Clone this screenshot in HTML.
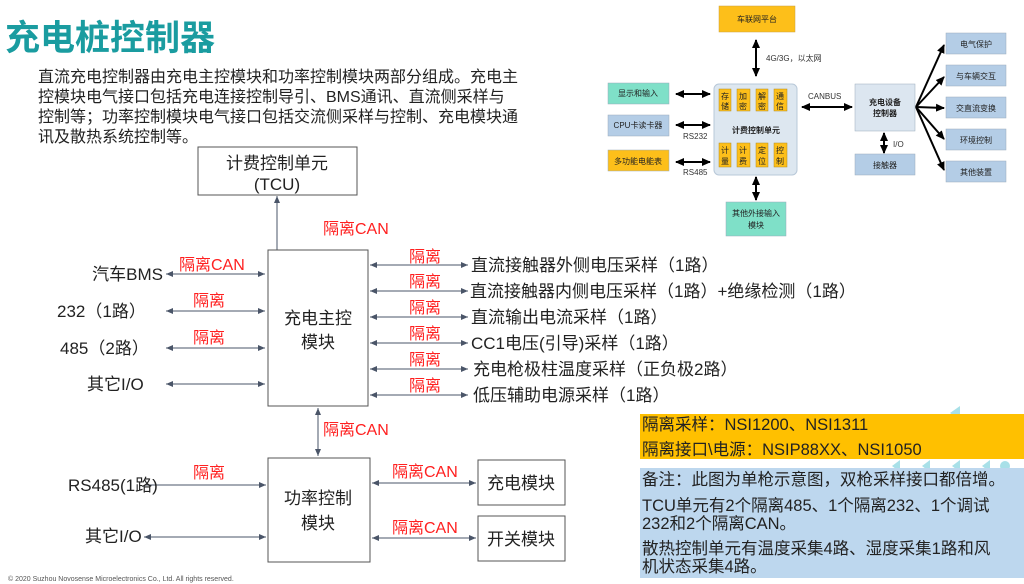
<!DOCTYPE html>
<html><head><meta charset="utf-8"><style>
html,body{margin:0;padding:0;background:#fff;}
svg{display:block;}
text{font-family:"Liberation Sans","Noto Sans CJK SC",sans-serif;}
</style></head><body>
<svg width="1024" height="584" viewBox="0 0 1024 584" xmlns="http://www.w3.org/2000/svg">
<defs>
<marker id="a" markerWidth="8" markerHeight="8" refX="7" refY="4" orient="auto-start-reverse" markerUnits="userSpaceOnUse"><path d="M0,1 L7,4 L0,7 z" fill="#4a5568"/></marker>
<marker id="b" markerWidth="10" markerHeight="10" refX="8" refY="5" orient="auto-start-reverse" markerUnits="userSpaceOnUse"><path d="M0,1 L9,5 L0,9 z" fill="#000"/></marker>
</defs>
<!-- title -->
<text x="5" y="50" font-size="35" font-weight="bold" fill="#1a9ca0">充电桩控制器</text>
<g font-size="16" fill="#222">
<text x="38" y="82">直流充电控制器由充电主控模块和功率控制模块两部分组成。充电主</text>
<text x="38" y="102">控模块电气接口包括充电连接控制导引、BMS通讯、直流侧采样与</text>
<text x="38" y="122">控制等；功率控制模块电气接口包括交流侧采样与控制、充电模块通</text>
<text x="38" y="142">讯及散热系统控制等。</text>
</g>
<!-- boxes -->
<rect x="198" y="147" width="159" height="48" fill="#fff" stroke="#555" stroke-width="1"/>
<line x1="277" y1="250" x2="277" y2="196" stroke="#4a5568" marker-end="url(#a)"/>
<rect x="268" y="250" width="100" height="156" fill="#fff" stroke="#555"/>
<rect x="268" y="458" width="102" height="104" fill="#fff" stroke="#555"/>
<rect x="478" y="460" width="87" height="45" fill="#fff" stroke="#555"/>
<rect x="478" y="516" width="87" height="45" fill="#fff" stroke="#555"/>
<g font-size="17" fill="#222" text-anchor="middle">
<text x="277" y="169">计费控制单元</text>
<text x="277" y="190">(TCU)</text>
<text x="318" y="324">充电主控</text>
<text x="318" y="348">模块</text>
<text x="318" y="504">功率控制</text>
<text x="318" y="529">模块</text>
<text x="521" y="489">充电模块</text>
<text x="521" y="545">开关模块</text>
</g>
<g stroke="#4a5568" stroke-width="1">
<line x1="318" y1="408" x2="318" y2="456" marker-start="url(#a)" marker-end="url(#a)"/>
<line x1="166" y1="274" x2="265" y2="274" marker-start="url(#a)" marker-end="url(#a)"/>
<line x1="166" y1="311" x2="265" y2="311" marker-start="url(#a)" marker-end="url(#a)"/>
<line x1="166" y1="348" x2="265" y2="348" marker-start="url(#a)" marker-end="url(#a)"/>
<line x1="166" y1="384" x2="265" y2="384" marker-start="url(#a)" marker-end="url(#a)"/>
<line x1="370" y1="265" x2="468" y2="265" marker-start="url(#a)" marker-end="url(#a)"/>
<line x1="370" y1="291" x2="468" y2="291" marker-start="url(#a)" marker-end="url(#a)"/>
<line x1="370" y1="317" x2="468" y2="317" marker-start="url(#a)" marker-end="url(#a)"/>
<line x1="370" y1="343" x2="468" y2="343" marker-start="url(#a)" marker-end="url(#a)"/>
<line x1="370" y1="369" x2="468" y2="369" marker-start="url(#a)" marker-end="url(#a)"/>
<line x1="370" y1="395" x2="468" y2="395" marker-start="url(#a)" marker-end="url(#a)"/>
<line x1="145" y1="485" x2="266" y2="485" marker-end="url(#a)"/>
<line x1="144" y1="537" x2="266" y2="537" marker-start="url(#a)" marker-end="url(#a)"/>
<line x1="372" y1="483" x2="476" y2="483" marker-start="url(#a)" marker-end="url(#a)"/>
<line x1="372" y1="538" x2="476" y2="538" marker-start="url(#a)" marker-end="url(#a)"/>
</g>
<g font-size="16" fill="#ff2020">
<text x="323" y="234">隔离CAN</text>
<text x="179" y="270">隔离CAN</text>
<text x="193" y="306">隔离</text>
<text x="193" y="343">隔离</text>
<text x="409" y="262">隔离</text>
<text x="409" y="287">隔离</text>
<text x="409" y="313">隔离</text>
<text x="409" y="339">隔离</text>
<text x="409" y="365">隔离</text>
<text x="409" y="391">隔离</text>
<text x="323" y="435">隔离CAN</text>
<text x="193" y="478">隔离</text>
<text x="392" y="477">隔离CAN</text>
<text x="392" y="533">隔离CAN</text>
</g>
<g font-size="17" fill="#222">
<text x="163" y="280" text-anchor="end">汽车BMS</text>
<text x="57" y="317">232（1路）</text>
<text x="60" y="354">485（2路）</text>
<text x="87" y="390">其它I/O</text>
<text x="68" y="491">RS485(1路)</text>
<text x="85" y="542">其它I/O</text>
<text x="471" y="271">直流接触器外侧电压采样（1路）</text>
<text x="470" y="297">直流接触器内侧电压采样（1路）+绝缘检测（1路）</text>
<text x="471" y="323">直流输出电流采样（1路）</text>
<text x="471" y="349">CC1电压(引导)采样（1路）</text>
<text x="473" y="375">充电枪极柱温度采样（正负极2路）</text>
<text x="473" y="401">低压辅助电源采样（1路）</text>
</g>
<text x="8" y="581" font-size="7" fill="#555">© 2020 Suzhou Novosense Microelectronics Co., Ltd.  All rights reserved.</text>
<!-- decorative -->
<g fill="#a8e0e8">
<path d="M960,406 L960,420 L950,413 z"/>
<path d="M900,460 L900,472 L892,466 z"/><path d="M930,460 L930,472 L922,466 z"/>
<path d="M960,460 L960,472 L952,466 z"/><path d="M990,460 L990,472 L982,466 z"/>
<circle cx="1005" cy="466" r="5"/>
</g>
<rect x="640" y="414" width="384" height="45" fill="#ffc000"/>
<rect x="640" y="468" width="384" height="110" fill="#bdd7ee"/>
<g font-size="16.5" fill="#222">
<text x="642" y="430">隔离采样：NSI1200、NSI1311</text>
<text x="642" y="455">隔离接口\电源：NSIP88XX、NSI1050</text>
<text x="642" y="485">备注：此图为单枪示意图，双枪采样接口都倍增。</text>
<text x="642" y="511">TCU单元有2个隔离485、1个隔离232、1个调试</text>
<text x="642" y="529">232和2个隔离CAN。</text>
<text x="642" y="554">散热控制单元有温度采集4路、湿度采集1路和风</text>
<text x="642" y="572">机状态采集4路。</text>
</g>
<!-- top right diagram -->
<g font-size="8" fill="#222" text-anchor="middle">
<rect x="719" y="6" width="76" height="26" fill="#fdbf1a" stroke="#c9a040" stroke-width="0.5"/>
<text x="757" y="22">车联网平台</text>
<rect x="714" y="84" width="83" height="91" rx="5" fill="#dde7f0" stroke="#b8c8d8"/>
<rect x="719" y="89" width="12" height="22" fill="#fdbf1a" stroke="#b08a20" stroke-width="0.5"/>
<rect x="737" y="89" width="13" height="22" fill="#fdbf1a" stroke="#b08a20" stroke-width="0.5"/>
<rect x="756" y="89" width="12" height="22" fill="#fdbf1a" stroke="#b08a20" stroke-width="0.5"/>
<rect x="774" y="89" width="13" height="22" fill="#fdbf1a" stroke="#b08a20" stroke-width="0.5"/>
<rect x="719" y="143" width="12" height="24" fill="#fdbf1a" stroke="#b08a20" stroke-width="0.5"/>
<rect x="737" y="143" width="13" height="24" fill="#fdbf1a" stroke="#b08a20" stroke-width="0.5"/>
<rect x="756" y="143" width="12" height="24" fill="#fdbf1a" stroke="#b08a20" stroke-width="0.5"/>
<rect x="774" y="143" width="13" height="24" fill="#fdbf1a" stroke="#b08a20" stroke-width="0.5"/>
<text x="725" y="99">存</text><text x="725" y="109">储</text>
<text x="743" y="99">加</text><text x="743" y="109">密</text>
<text x="762" y="99">解</text><text x="762" y="109">密</text>
<text x="780" y="99">通</text><text x="780" y="109">信</text>
<text x="725" y="153">计</text><text x="725" y="164">量</text>
<text x="743" y="153">计</text><text x="743" y="164">费</text>
<text x="762" y="153">定</text><text x="762" y="164">位</text>
<text x="780" y="153">控</text><text x="780" y="164">制</text>
<text x="756" y="133" font-weight="bold">计费控制单元</text>
<rect x="608" y="83" width="61" height="21" fill="#7fe0c8" stroke="#9ab" stroke-width="0.5"/><text x="638" y="96">显示和输入</text>
<rect x="608" y="115" width="61" height="21" fill="#b4cde6" stroke="#9ab" stroke-width="0.5"/><text x="638" y="128">CPU卡读卡器</text>
<rect x="608" y="150" width="61" height="21" fill="#fdbf1a" stroke="#9ab" stroke-width="0.5"/><text x="638" y="164">多功能电能表</text>
<rect x="726" y="202" width="60" height="34" fill="#7fe0c8" stroke="#9ab" stroke-width="0.5"/><text x="756" y="216">其他外接输入</text><text x="756" y="228">模块</text>
<rect x="855" y="84" width="60" height="47" fill="#dce6f0" stroke="#9ab" stroke-width="0.5"/><text x="885" y="105" font-weight="bold">充电设备</text><text x="885" y="116" font-weight="bold">控制器</text>
<rect x="855" y="154" width="60" height="21" fill="#b4cde6" stroke="#9ab" stroke-width="0.5"/><text x="885" y="168">接触器</text>
<rect x="946" y="33" width="60" height="21" fill="#b4cde6" stroke="#9ab" stroke-width="0.5"/><text x="976" y="47">电气保护</text>
<rect x="946" y="65" width="60" height="21" fill="#b4cde6" stroke="#9ab" stroke-width="0.5"/><text x="976" y="79">与车辆交互</text>
<rect x="946" y="97" width="60" height="21" fill="#b4cde6" stroke="#9ab" stroke-width="0.5"/><text x="976" y="111">交直流变换</text>
<rect x="946" y="129" width="60" height="21" fill="#b4cde6" stroke="#9ab" stroke-width="0.5"/><text x="976" y="143">环境控制</text>
<rect x="946" y="161" width="60" height="21" fill="#b4cde6" stroke="#9ab" stroke-width="0.5"/><text x="976" y="175">其他装置</text>
</g>
<g font-size="8" fill="#333">
<text x="766" y="61">4G/3G，以太网</text>
<text x="808" y="99">CANBUS</text>
<text x="683" y="139">RS232</text>
<text x="683" y="175">RS485</text>
<text x="893" y="147">I/O</text>
</g>
<g stroke="#000" stroke-width="2">
<line x1="756" y1="40" x2="756" y2="76" marker-start="url(#b)" marker-end="url(#b)"/>
<line x1="756" y1="177" x2="756" y2="200" marker-start="url(#b)" marker-end="url(#b)"/>
<line x1="676" y1="94" x2="710" y2="94" marker-start="url(#b)" marker-end="url(#b)"/>
<line x1="676" y1="125" x2="710" y2="125" marker-start="url(#b)" marker-end="url(#b)"/>
<line x1="676" y1="162" x2="710" y2="162" marker-start="url(#b)" marker-end="url(#b)"/>
<line x1="802" y1="107" x2="852" y2="107" marker-start="url(#b)" marker-end="url(#b)"/>
<line x1="884" y1="133" x2="884" y2="153" marker-start="url(#b)" marker-end="url(#b)"/>
<line x1="916" y1="107" x2="944" y2="45" marker-end="url(#b)"/>
<line x1="916" y1="107" x2="944" y2="77" marker-end="url(#b)"/>
<line x1="916" y1="107" x2="944" y2="108" marker-end="url(#b)"/>
<line x1="916" y1="107" x2="944" y2="139" marker-end="url(#b)"/>
<line x1="916" y1="107" x2="944" y2="170" marker-end="url(#b)"/>
</g>
</svg>
</body></html>
